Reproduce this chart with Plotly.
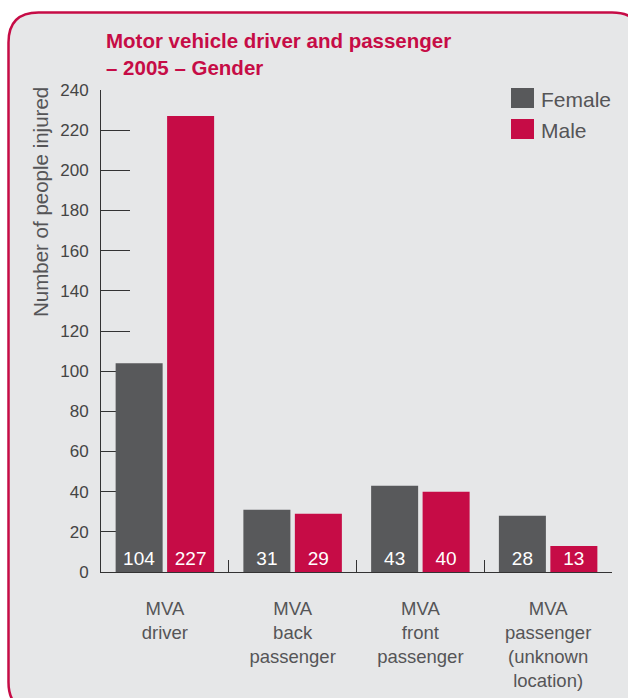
import plotly.graph_objects as go

categories = ["MVA<br>driver", "MVA<br>back<br>passenger", "MVA<br>front<br>passenger",
              "MVA<br>passenger<br>(unknown<br>location)"]
female = [104, 31, 43, 28]
male = [227, 29, 40, 13]
series_names = ["Female", "Male"]
title_text = "Motor vehicle driver and passenger<br>– 2005 – Gender"
y_title = "Number of people injured"
y_ticks = list(range(0, 241, 20))

W, H = 628, 698
L, R, T, B = 101, 16, 90, 126
PW, PH = W - L - R, H - T - B

def xp(px):
    return (px - L) / PW

def yp(py):
    return (H - B - py) / PH

FEMALE_C = "#58595b"
MALE_C = "#c60c46"
BG = "#e6e7e8"
TXT = "#555557"
FONT = "Liberation Sans, Arial, sans-serif"

fig = go.Figure()
for name, vals, col in [(series_names[0], female, FEMALE_C), (series_names[1], male, MALE_C)]:
    fig.add_trace(go.Bar(
        x=categories, y=vals, name=name, marker=dict(color=col, line=dict(width=0)),
        text=[str(v) for v in vals], textposition="inside", insidetextanchor="start",
        textfont=dict(color="white", size=19, family=FONT), constraintext="none",
        showlegend=False, cliponaxis=False,
    ))

# rounded border panel
x0, y0, x1, y1, r = 8.5, 12.5, 642, 712, 30
pts = [
    ("M", [(x0 + r, y0)]),
    ("L", [(x1 - r, y0)]),
    ("Q", [(x1, y0), (x1, y0 + r)]),
    ("L", [(x1, y1 - r)]),
    ("Q", [(x1, y1), (x1 - r, y1)]),
    ("L", [(x0 + r, y1)]),
    ("Q", [(x0, y1), (x0, y1 - r)]),
    ("L", [(x0, y0 + r)]),
    ("Q", [(x0, y0), (x0 + r, y0)]),
]
path = " ".join(cmd + " " + " ".join(f"{xp(a):.5f},{yp(b):.5f}" for a, b in p) for cmd, p in pts) + " Z"
shapes = [dict(type="path", xref="paper", yref="paper", path=path,
               fillcolor=BG, line=dict(color=MALE_C, width=2.5), layer="below")]

annotations = [
    dict(text="<b>" + title_text + "</b>", xref="paper", yref="paper", x=xp(104), y=yp(27),
         xanchor="left", yanchor="top", align="left", showarrow=False,
         font=dict(color=MALE_C, size=20.5, family=FONT)),
    dict(text=y_title, xref="paper", yref="paper", x=xp(40), y=yp(85), textangle=-90,
         xanchor="center", yanchor="top", showarrow=False,
         font=dict(color=TXT, size=20.5, family=FONT)),
]

# legend
for i, (name, col) in enumerate([(series_names[0], FEMALE_C), (series_names[1], MALE_C)]):
    cy = 98 + i * 31
    shapes.append(dict(type="rect", xref="paper", yref="paper",
                       x0=xp(511), x1=xp(534), y0=yp(cy - 10), y1=yp(cy + 10),
                       fillcolor=col, line=dict(width=0), layer="above"))
    annotations.append(dict(text=name, xref="paper", yref="paper", x=xp(539), y=yp(cy + 1),
                            xanchor="left", yanchor="middle", showarrow=False,
                            font=dict(color=TXT, size=21, family=FONT)))

fig.update_layout(
    width=W, height=H, margin=dict(l=L, r=R, t=T, b=B, pad=0, autoexpand=False),
    paper_bgcolor="white", plot_bgcolor="rgba(0,0,0,0)",
    barmode="group", bargap=0.194, bargroupgap=0.087,
    shapes=shapes, annotations=annotations, showlegend=False,
    font=dict(family=FONT, color=TXT),
)
fig.update_xaxes(
    type="category", categoryorder="array", categoryarray=categories,
    range=[-0.5, len(categories) - 0.5],
    tickson="boundaries", ticks="inside", ticklen=12, tickcolor="#333", tickwidth=1,
    showline=True, linecolor="#333", linewidth=1, showgrid=False, zeroline=False,
    tickfont=dict(size=18.5, color=TXT, family=FONT), ticklabelstandoff=20, automargin=False,
)
fig.update_yaxes(
    range=[0, 240], tickmode="array", tickvals=y_ticks, ticks="inside", ticklen=29,
    tickcolor="#333", tickwidth=1, showline=True, linecolor="#333", linewidth=1,
    showgrid=False, zeroline=False, layer="below traces", automargin=False,
    tickfont=dict(size=17, color="#444", family=FONT), ticklabelstandoff=8,
)

fig.write_html("out.html", config={"displayModeBar": False},
               post_script="document.body.style.margin='0';")
